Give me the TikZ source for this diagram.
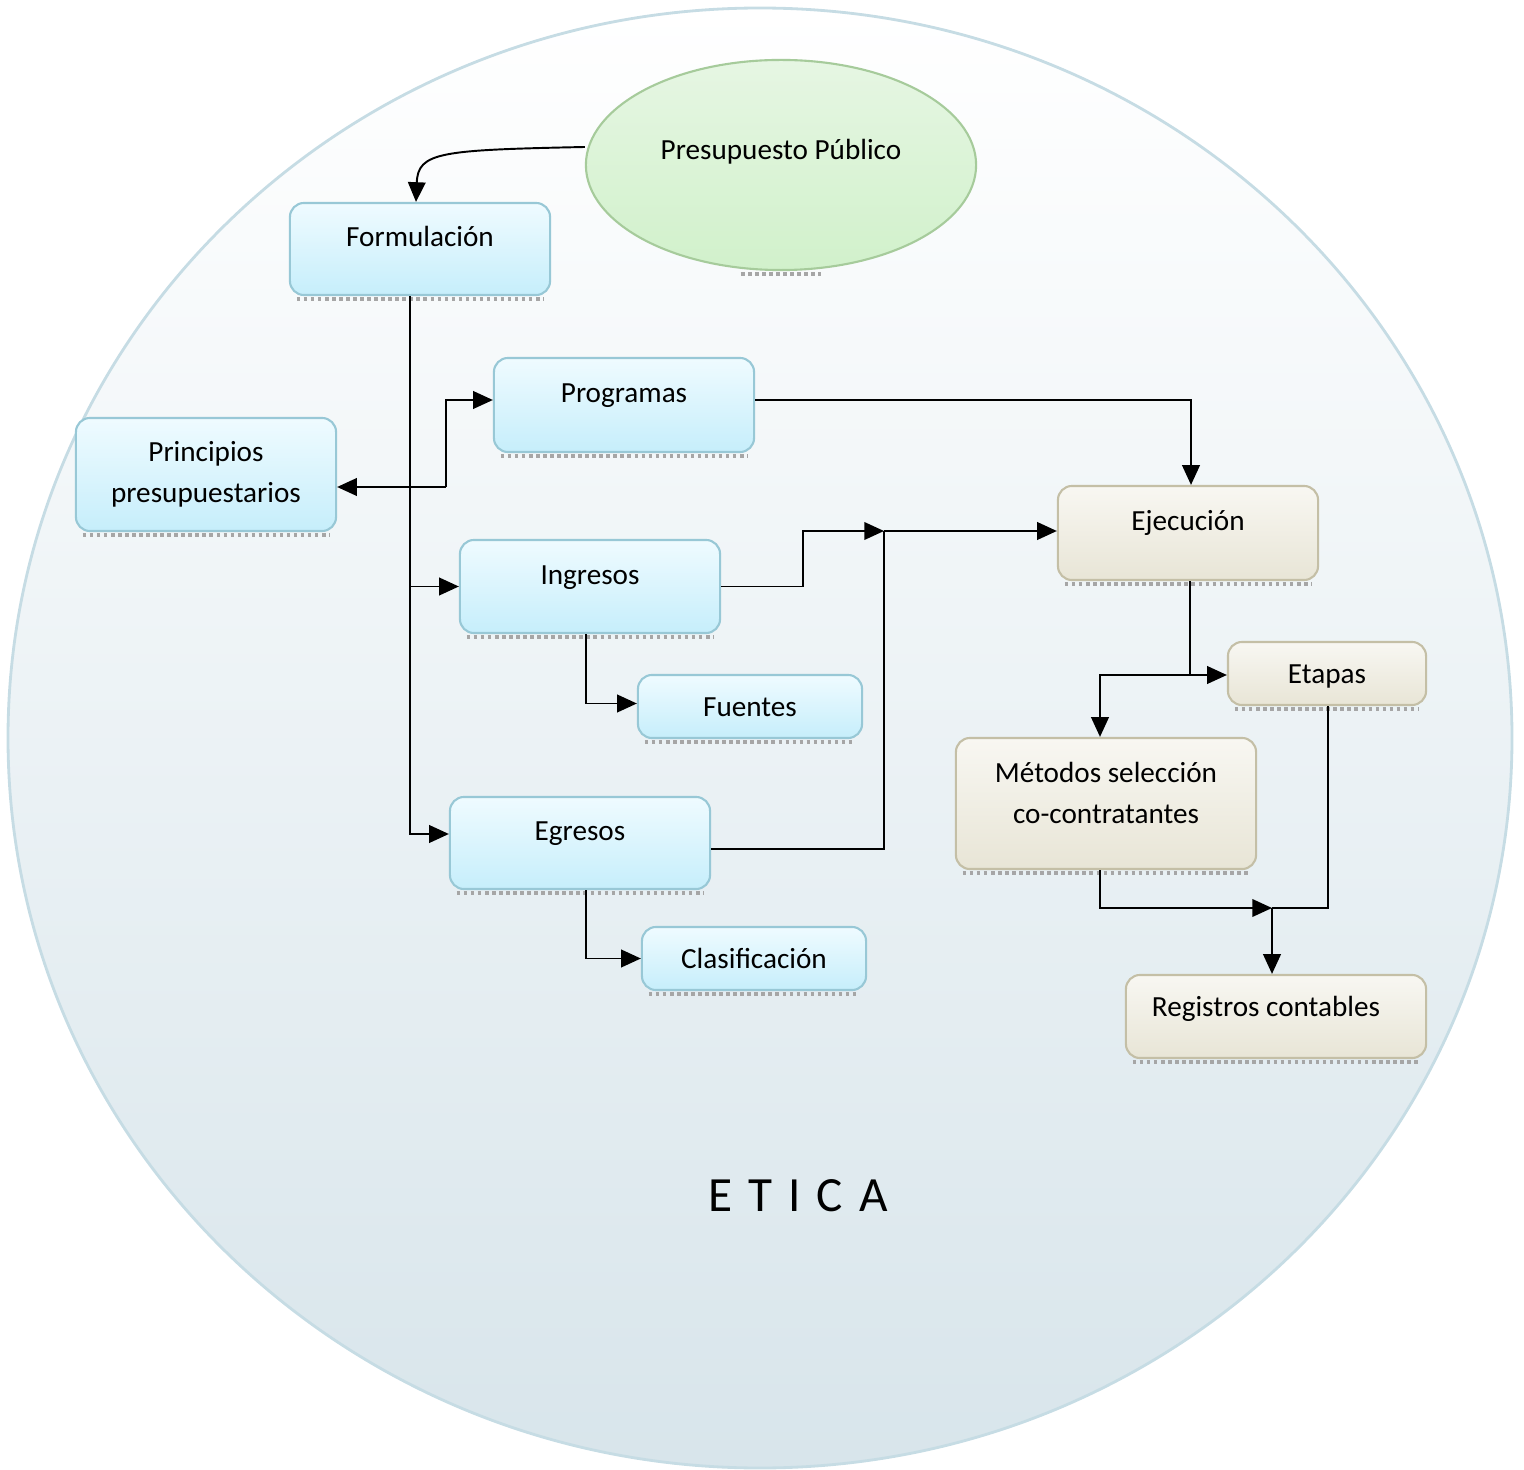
\documentclass[tikz,border=0pt]{standalone}
\usepackage{fontspec}
\setmainfont{Carlito}
\newfontfamily\eticafont[LetterSpace=10]{Carlito}
\usepackage{xcolor}
\usetikzlibrary{shapes.geometric}
\usetikzlibrary{arrows.meta}
\definecolor{rim}{HTML}{C6DCE4}
\definecolor{etica}{HTML}{D8E5EB}
\definecolor{blueA}{HTML}{EFFBFF}
\definecolor{blueB}{HTML}{C6EEFB}
\definecolor{blueline}{HTML}{98C8D6}
\definecolor{sandA}{HTML}{F8F7F2}
\definecolor{sandB}{HTML}{E8E5D6}
\definecolor{sandline}{HTML}{C4BFA6}
\definecolor{greenA}{HTML}{E6F6E3}
\definecolor{greenB}{HTML}{D1F1CB}
\definecolor{greenline}{HTML}{A6CB9B}

\begin{document}
\begin{tikzpicture}[x=0.01cm,y=-0.01cm,
  font=\fontsize{8.3pt}{11.7pt}\selectfont,
  >={Triangle[length=5.6pt,width=5pt]},
  line width=0.55pt,
  bluebox/.style={draw=blueline,line width=0.6pt,rounded corners=4pt,top color=blueA,bottom color=blueB,
    align=center,inner sep=0pt,text height=6.5pt,text depth=0.6pt},
  sandbox/.style={bluebox,draw=sandline,top color=sandA,bottom color=sandB},
  textup/.style={text depth=7.8pt},
  shadowline/.style={gray!70,densely dotted,line width=1pt}]
 \useasboundingbox (0,0) rectangle (1524,1470);
 \shade[top color=white,bottom color=etica,draw=rim,line width=0.8pt] (760,738) ellipse [x radius=752,y radius=730];

 \node[ellipse,draw=greenline,line width=0.6pt,top color=greenA,bottom color=greenB,inner sep=0pt,
   minimum width=3.9cm,minimum height=2.1cm,text height=6.5pt,text depth=9.9pt] (pp) at (781,165) {Presupuesto Público};
 \node[bluebox,textup,minimum width=2.6cm,minimum height=0.92cm] (form) at (420,249) {Formulación};
 \node[bluebox,textup,minimum width=2.6cm,minimum height=0.94cm] (prog) at (624,405) {Programas};
 \node[bluebox,text height=,text depth=,minimum width=2.6cm,minimum height=1.13cm] (prin) at (206,474.5) {Principios\\presupuestarios};
 \node[bluebox,textup,minimum width=2.6cm,minimum height=0.93cm] (ing) at (590,586.5) {Ingresos};
 \node[bluebox,minimum width=2.24cm,minimum height=0.63cm] (fue) at (750,706.5) {Fuentes};
 \node[bluebox,textup,minimum width=2.6cm,minimum height=0.92cm] (egr) at (580,843) {Egresos};
 \node[bluebox,minimum width=2.24cm,minimum height=0.63cm] (cla) at (754,958.5) {Clasificación};
 \node[sandbox,textup,minimum width=2.6cm,minimum height=0.94cm] (eje) at (1188,533) {Ejecución};
 \node[sandbox,minimum width=1.98cm,minimum height=0.63cm] (eta) at (1327,673.5) {Etapas};
 \node[sandbox,text height=13.8pt,text depth=14.8pt,minimum width=3cm,minimum height=1.31cm] (met) at (1106,803.5)
   {\begin{tabular}{@{}c@{}}Métodos selección\\co-contratantes\end{tabular}};
 \node[sandbox,text depth=6.5pt,minimum width=3cm,minimum height=0.83cm] (reg) at (1276,1016.5) {Registros contables\hspace{0.2cm}};

 % shadows under the boxes
 \foreach \n in {form,prog,prin,ing,fue,egr,cla,eje,eta,met,reg}
   \draw[shadowline] ([xshift=0.08cm,yshift=-0.03cm]\n.south west) -- ([xshift=-0.08cm,yshift=-0.03cm]\n.south east);
 \draw[shadowline] ([xshift=-0.4cm,yshift=-0.03cm]pp.south) -- ([xshift=0.4cm,yshift=-0.03cm]pp.south);

 % links
 \draw[->] ([yshift=0.18cm]pp.west) .. controls (440,150) and (418,152) .. ([xshift=-0.04cm]form.north);
 \coordinate (trunk) at (410,0);
 \draw[->] (form.south -| trunk) |- ([yshift=0.09cm]egr.west);
 \draw[->] (ing.west -| trunk) -- (ing.west);
 \coordinate (pj) at (446,487);
 \draw[->] (pj) -- (pj -| prin.east);
 \draw[->] (pj) |- ([yshift=0.05cm]prog.west);
 \draw[->] ([xshift=-0.04cm]ing.south) |- ([yshift=0.03cm]fue.west);
 \draw[->] ([xshift=0.06cm]egr.south) |- (cla.west);

 \coordinate (mj) at (884,531);
 \draw[->] (ing.east) -- ++(82,0) |- (mj);
 \draw ([yshift=-0.06cm]egr.east) -| (mj);
 \draw[->] (mj) -- (mj -| eje.west);
 \draw[->] ([yshift=0.05cm]prog.east) -| ([xshift=0.03cm]eje.north);

 \coordinate (ej) at (1190,675);
 \draw (eje.south -| ej) -- (ej);
 \draw[->] (ej) -- (ej -| eta.west);
 \draw[->] (ej) -| ([xshift=-0.06cm]met.north);
 \coordinate (rj) at (1272,908);
 \draw[->] ([xshift=-0.06cm]met.south) |- (rj);
 \draw ([xshift=0.01cm]eta.south) |- (rj);
 \draw[->] (rj) -- (rj |- reg.north);

 \node (etc) at (798,1196) {\eticafont\fontsize{14pt}{16pt}\selectfont E T I C A};
\end{tikzpicture}
\end{document}
